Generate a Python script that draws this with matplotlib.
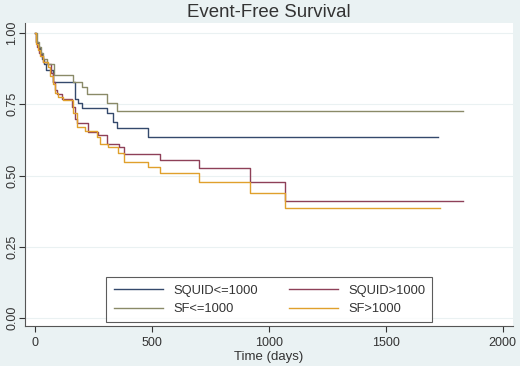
import matplotlib
matplotlib.use("Agg")
import matplotlib.pyplot as plt

plt.rcParams['font.family'] = ['Liberation Sans', 'DejaVu Sans']

# Kaplan-Meier step curves (time in days, survival)
squid_lo_t = [0, 5, 12, 20, 28, 38, 48, 78, 171, 184, 201, 308, 333, 350, 483, 1722]
squid_lo_s = [1.0, 0.97, 0.95, 0.93, 0.91, 0.89, 0.87, 0.828, 0.77, 0.754, 0.737, 0.72, 0.688, 0.667, 0.635, 0.635]

squid_hi_t = [0, 5, 10, 18, 25, 35, 51, 68, 77, 85, 95, 115, 158, 171, 179, 226, 269, 308, 359, 380, 534, 701, 919, 1068, 1829]
squid_hi_s = [1.0, 0.97, 0.95, 0.93, 0.92, 0.90, 0.89, 0.86, 0.83, 0.80, 0.785, 0.77, 0.74, 0.70, 0.684, 0.653, 0.642, 0.61, 0.60, 0.575, 0.554, 0.526, 0.477, 0.41, 0.41]

sf_lo_t = [0, 8, 15, 25, 35, 50, 80, 162, 200, 222, 308, 350, 1829]
sf_lo_s = [1.0, 0.97, 0.95, 0.93, 0.91, 0.89, 0.853, 0.828, 0.81, 0.786, 0.754, 0.725, 0.725]

sf_hi_t = [0, 5, 12, 20, 35, 55, 65, 75, 85, 100, 120, 162, 179, 214, 265, 278, 312, 355, 380, 483, 534, 701, 919, 1068, 1731]
sf_hi_s = [1.0, 0.96, 0.94, 0.92, 0.90, 0.88, 0.85, 0.82, 0.79, 0.775, 0.765, 0.72, 0.67, 0.655, 0.635, 0.61, 0.60, 0.58, 0.547, 0.53, 0.509, 0.477, 0.439, 0.386, 0.386]

x_ticks = [0, 500, 1000, 1500, 2000]
y_ticks = [0.0, 0.25, 0.5, 0.75, 1.0]
y_ticklabels = ["0.00", "0.25", "0.50", "0.75", "1.00"]

bg = "#eaf2f3"
txt = "#333333"

fig = plt.figure(figsize=(5.2, 3.66), dpi=100, facecolor=bg)
ax = fig.add_axes([0.048, 0.109, 0.938, 0.828])
ax.set_facecolor("white")

l1, = ax.step(squid_lo_t, squid_lo_s, where="post", color="#34496c", lw=1.0, label="SQUID<=1000")
l2, = ax.step(squid_hi_t, squid_hi_s, where="post", color="#8e4058", lw=1.0, label="SQUID>1000")
l3, = ax.step(sf_lo_t, sf_lo_s, where="post", color="#8a8a68", lw=1.0, label="SF<=1000")
l4, = ax.step(sf_hi_t, sf_hi_s, where="post", color="#e0a02c", lw=1.0, label="SF>1000")

ax.set_xlim(-43, 2043)
ax.set_ylim(-0.028, 1.035)
ax.set_xticks(x_ticks)
ax.set_yticks(y_ticks)
ax.set_yticklabels(y_ticklabels, rotation=90, va="center")
ax.tick_params(colors=txt, labelsize=9, length=4, width=0.8, direction="out")
ax.tick_params(axis="y", pad=1)
ax.grid(axis="y", color="#eaf1f2", lw=0.8)
ax.set_axisbelow(True)

for side in ["top", "right"]:
    ax.spines[side].set_visible(False)
for side in ["left", "bottom"]:
    ax.spines[side].set_color("#555555")
    ax.spines[side].set_linewidth(0.8)

ax.set_xlabel("Time (days)", fontsize=9.5, color=txt, labelpad=2)
fig.text(0.517, 0.965, "Event-Free Survival", ha="center", va="center", fontsize=13.4, color=txt)

leg = ax.legend(handles=[l1, l3, l2, l4], ncol=2, loc="lower center",
                bbox_to_anchor=(0.501, 0.013), fontsize=9.3, frameon=True, fancybox=False,
                handlelength=3.8, columnspacing=2.4, borderpad=0.55, labelspacing=0.5,
                handletextpad=0.8, borderaxespad=0)
leg.get_frame().set_edgecolor("#333333")
leg.get_frame().set_linewidth(0.8)
for t in leg.get_texts():
    t.set_color(txt)

fig.savefig("out.png", dpi=100, facecolor=bg)
